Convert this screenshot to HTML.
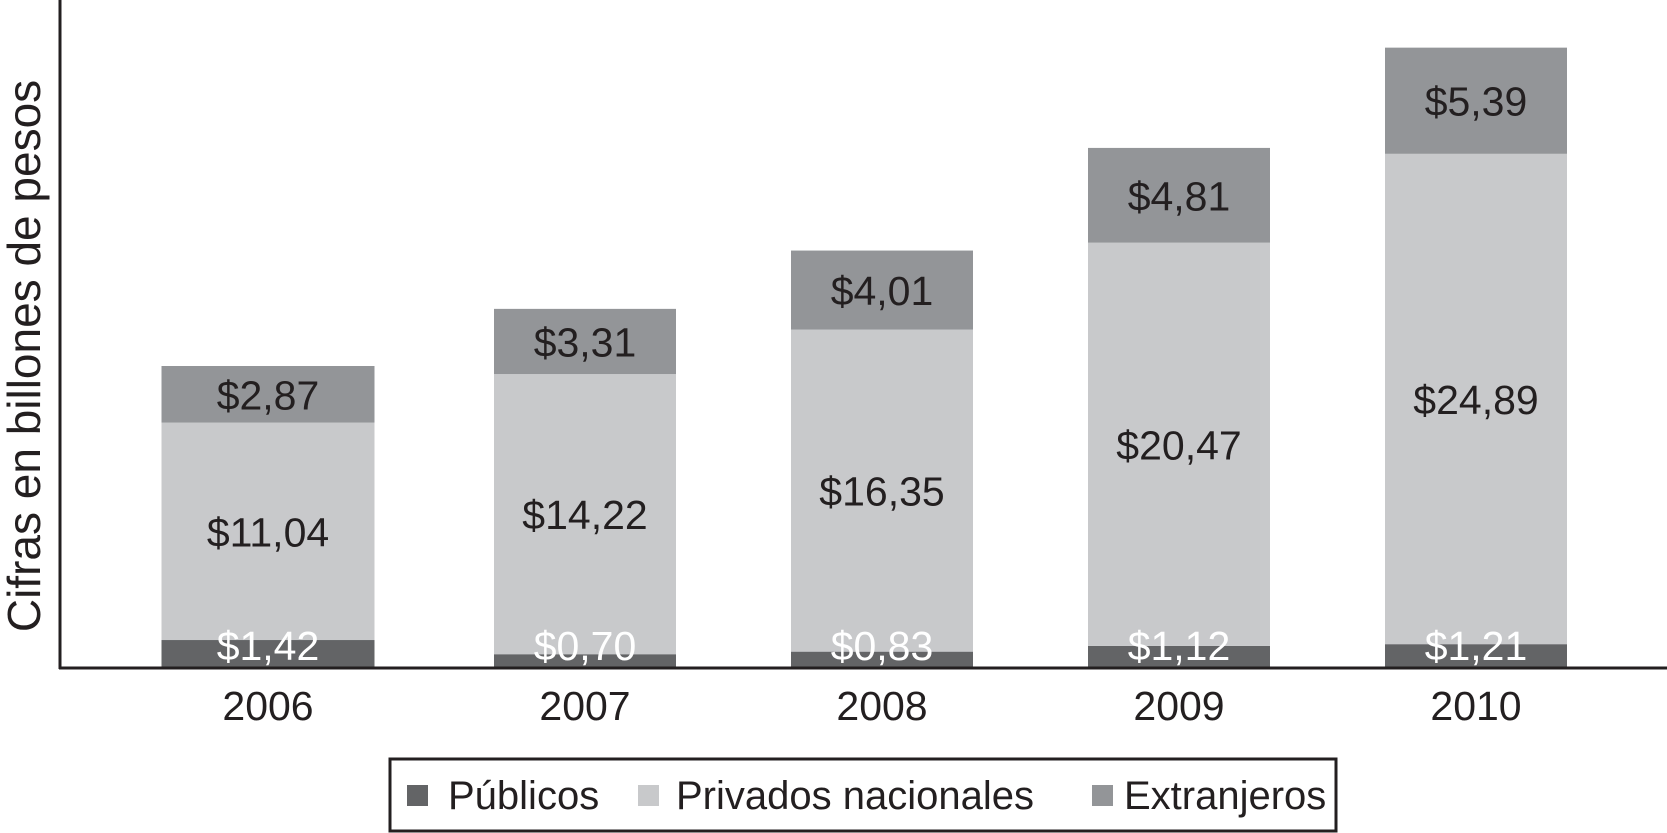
<!DOCTYPE html>
<html><head><meta charset="utf-8"><style>
body{margin:0;background:#fff;}
svg{display:block;font-family:"Liberation Sans",sans-serif;}
</style></head><body>
<svg width="1667" height="833" viewBox="0 0 1667 833">
<g id="bars"></g>
<line x1="60" y1="0" x2="60" y2="669" stroke="#231f20" stroke-width="3"/>
<line x1="59" y1="668" x2="1667" y2="668" stroke="#231f20" stroke-width="3"/>
<text transform="translate(40,356) rotate(-90)" text-anchor="middle" font-size="46" fill="#231f20">Cifras en billones de pesos</text>
<g>
<rect x="390" y="759" width="946" height="72" fill="#fff" stroke="#231f20" stroke-width="3"/>
<rect x="407" y="785" width="21" height="21" fill="#636466"/>
<text x="448" y="809" font-size="40" fill="#231f20">Públicos</text>
<rect x="638" y="785" width="21" height="21" fill="#c8c9cb"/>
<text x="676" y="809" font-size="40" fill="#231f20">Privados nacionales</text>
<rect x="1092" y="785" width="21" height="21" fill="#939598"/>
<text x="1124" y="809" font-size="40" fill="#231f20">Extranjeros</text>
</g>
</svg>
<script>
const categories = ["2006","2007","2008","2009","2010"];
const publicos = [1.42,0.70,0.83,1.12,1.21];
const privados = [11.04,14.22,16.35,20.47,24.89];
const extranjeros = [2.87,3.31,4.01,4.81,5.39];
const labelsPub = ["$1,42","$0,70","$0,83","$1,12","$1,21"];
const labelsPriv = ["$11,04","$14,22","$16,35","$20,47","$24,89"];
const labelsExt = ["$2,87","$3,31","$4,01","$4,81","$5,39"];

const baseY = 668, pxPerUnit = 19.7;
function y(v){ return baseY - v*pxPerUnit; }
const step = 297, bw = 182;
function xCenter(i){ return i===0 ? 268 : 585 + (i-1)*step; }
function bandW(i){ return i===0 ? 213 : bw; }

const NS = "http://www.w3.org/2000/svg";
const g = document.getElementById('bars');
function rect(x,y0,w,h,fill,name){
  const r=document.createElementNS(NS,'rect');
  r.setAttribute('x',x);r.setAttribute('y',y0);r.setAttribute('width',w);r.setAttribute('height',h);r.setAttribute('fill',fill);
  
  
  g.appendChild(r);
}
function text(x,y0,s,fill,size,name){
  const t=document.createElementNS(NS,'text');
  t.setAttribute('x',x);t.setAttribute('y',y0);t.setAttribute('text-anchor','middle');t.setAttribute('font-size',size);t.setAttribute('fill',fill);
  t.textContent=s;
  
  
  g.appendChild(t);
}
categories.forEach((c,i)=>{
  const w=bandW(i), cx=xCenter(i), x=cx-w/2;
  const p=publicos[i], q=privados[i], e=extranjeros[i];
  rect(x,y(p),w,baseY-y(p),'#636466','bar-publicos-'+c);
  rect(x,y(p+q),w,y(p)-y(p+q),'#c8c9cb','bar-privados-'+c);
  rect(x,y(p+q+e),w,y(p+q)-y(p+q+e),'#939598','bar-extranjeros-'+c);
  text(cx,baseY-8,labelsPub[i],'#ffffff',41,'value-label-publicos-'+c);
  text(cx,(y(p)+y(p+q))/2+15,labelsPriv[i],'#231f20',41,'value-label-privados-'+c);
  text(cx,(y(p+q)+y(p+q+e))/2+15,labelsExt[i],'#231f20',41,'value-label-extranjeros-'+c);
  text(cx,720,c,'#231f20',41,'x-tick-label-'+c);
});
</script>
</body></html>
